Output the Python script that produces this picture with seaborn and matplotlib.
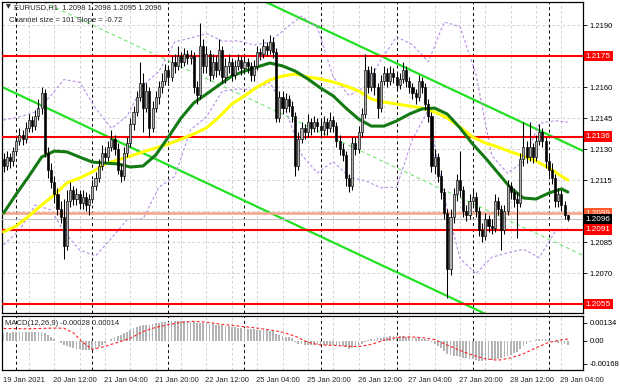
import matplotlib
matplotlib.use("Agg")
import matplotlib.pyplot as plt
import matplotlib.transforms as mtrans
import numpy as np
import pandas as pd
import seaborn as sns

# ---------------- data ----------------
first_open = 1.2125
close = [1.2122, 1.2126, 1.2124, 1.2129, 1.2134, 1.2137, 1.2135, 1.2140, 1.2144, 1.2141,
         1.2146, 1.2150, 1.2157, 1.2128, 1.2120, 1.2114, 1.2108, 1.2101, 1.2097, 1.2083,
         1.2105, 1.2110, 1.2106, 1.2108, 1.2104, 1.2107, 1.2103, 1.2106, 1.2112, 1.2116,
         1.2122, 1.2128, 1.2126, 1.2131, 1.2135, 1.2130, 1.2120, 1.2117, 1.2128, 1.2133,
         1.2142, 1.2148, 1.2155, 1.2162, 1.2150, 1.2158, 1.2140, 1.2150, 1.2155, 1.2160,
         1.2163, 1.2168, 1.2165, 1.2172, 1.2170, 1.2175, 1.2172, 1.2176, 1.2174, 1.2175,
         1.2160, 1.2156, 1.2180, 1.2170, 1.2176, 1.2166, 1.2172, 1.2168, 1.2178, 1.2165,
         1.2170, 1.2172, 1.2166, 1.2170, 1.2173, 1.2169, 1.2172, 1.2170, 1.2166, 1.2170,
         1.2177, 1.2176, 1.2180, 1.2178, 1.2182, 1.2177, 1.2145, 1.2155, 1.2150, 1.2154,
         1.2151, 1.2146, 1.2122, 1.2135, 1.2140, 1.2138, 1.2143, 1.2140, 1.2143, 1.2141,
         1.2139, 1.2143, 1.2140, 1.2144, 1.2141, 1.2134, 1.2130, 1.2127, 1.2116, 1.2112,
         1.2133, 1.2130, 1.2138, 1.2147, 1.2168, 1.2160, 1.2167, 1.2160, 1.2150, 1.2163,
         1.2167, 1.2163, 1.2167, 1.2165, 1.2161, 1.2164, 1.2168, 1.2163, 1.2160, 1.2157,
         1.2155, 1.2163, 1.2160, 1.2152, 1.2146, 1.2122, 1.2126, 1.2117, 1.2109, 1.2099,
         1.2072, 1.2097, 1.2108, 1.2115, 1.2110, 1.2100, 1.2098, 1.2105, 1.2107, 1.2100,
         1.2091, 1.2088, 1.2096, 1.2093, 1.2092, 1.2105, 1.2101, 1.2091, 1.2100, 1.2112,
         1.2109, 1.2106, 1.2104, 1.2125, 1.2131, 1.2126, 1.2131, 1.2126, 1.2134, 1.2138,
         1.2134, 1.2124, 1.2120, 1.2116, 1.2105, 1.2108, 1.2103, 1.2098, 1.2096]
high = [1.2128, 1.2129, 1.2128, 1.2131, 1.2136, 1.2140, 1.2139, 1.2143, 1.2147, 1.2146,
        1.2149, 1.2154, 1.2160, 1.2159, 1.2131, 1.2123, 1.2117, 1.2111, 1.2105, 1.2106,
        1.2110, 1.2114, 1.2112, 1.2111, 1.2110, 1.2110, 1.2109, 1.2108, 1.2115, 1.2119,
        1.2125, 1.2132, 1.2131, 1.2134, 1.2139, 1.2137, 1.2133, 1.2123, 1.2131, 1.2136,
        1.2145, 1.2151, 1.2158, 1.2172, 1.2167, 1.2162, 1.2160, 1.2153, 1.2158, 1.2163,
        1.2167, 1.2171, 1.2170, 1.2175, 1.2176, 1.2180, 1.2177, 1.2179, 1.2178, 1.2178,
        1.2177, 1.2163, 1.2191, 1.2183, 1.2180, 1.2178, 1.2176, 1.2175, 1.2183, 1.2180,
        1.2174, 1.2176, 1.2174, 1.2173, 1.2176, 1.2175, 1.2175, 1.2174, 1.2172, 1.2173,
        1.2180, 1.2179, 1.2183, 1.2182, 1.2185, 1.2184, 1.2179, 1.2158, 1.2158, 1.2157,
        1.2156, 1.2153, 1.2148, 1.2138, 1.2143, 1.2142, 1.2147, 1.2145, 1.2146, 1.2145,
        1.2144, 1.2146, 1.2145, 1.2148, 1.2146, 1.2143, 1.2137, 1.2133, 1.2129, 1.2118,
        1.2136, 1.2136, 1.2141, 1.2150, 1.2176, 1.2170, 1.2170, 1.2169, 1.2162, 1.2166,
        1.2170, 1.2169, 1.2170, 1.2169, 1.2167, 1.2167, 1.2172, 1.2170, 1.2165, 1.2162,
        1.2159, 1.2166, 1.2165, 1.2162, 1.2154, 1.2148, 1.2130, 1.2128, 1.2120, 1.2111,
        1.2101, 1.2101, 1.2111, 1.2118, 1.2129, 1.2112, 1.2103, 1.2108, 1.2110, 1.2109,
        1.2102, 1.2094, 1.2099, 1.2098, 1.2096, 1.2108, 1.2107, 1.2103, 1.2103, 1.2115,
        1.2114, 1.2111, 1.2109, 1.2128, 1.2143, 1.2134, 1.2143, 1.2133, 1.2137, 1.2142,
        1.2140, 1.2136, 1.2127, 1.2123, 1.2118, 1.2111, 1.2110, 1.2105, 1.2098]
low = [1.2119, 1.2120, 1.2121, 1.2122, 1.2127, 1.2132, 1.2132, 1.2133, 1.2138, 1.2138,
       1.2139, 1.2144, 1.2147, 1.2126, 1.2116, 1.2111, 1.2104, 1.2098, 1.2094, 1.2077,
       1.2081, 1.2102, 1.2103, 1.2103, 1.2101, 1.2101, 1.2100, 1.2098, 1.2104, 1.2110,
       1.2114, 1.2120, 1.2123, 1.2124, 1.2129, 1.2127, 1.2118, 1.2114, 1.2115, 1.2126,
       1.2131, 1.2139, 1.2146, 1.2153, 1.2138, 1.2148, 1.2136, 1.2138, 1.2148, 1.2152,
       1.2157, 1.2161, 1.2162, 1.2163, 1.2167, 1.2168, 1.2169, 1.2170, 1.2171, 1.2171,
       1.2157, 1.2152, 1.2154, 1.2167, 1.2167, 1.2163, 1.2164, 1.2165, 1.2166, 1.2162,
       1.2162, 1.2167, 1.2163, 1.2164, 1.2168, 1.2166, 1.2167, 1.2167, 1.2163, 1.2163,
       1.2168, 1.2173, 1.2174, 1.2175, 1.2176, 1.2174, 1.2143, 1.2143, 1.2147, 1.2148,
       1.2148, 1.2143, 1.2117, 1.2120, 1.2133, 1.2135, 1.2136, 1.2137, 1.2138, 1.2138,
       1.2136, 1.2137, 1.2137, 1.2138, 1.2138, 1.2131, 1.2127, 1.2124, 1.2112, 1.2109,
       1.2110, 1.2127, 1.2128, 1.2136, 1.2145, 1.2157, 1.2158, 1.2156, 1.2145, 1.2148,
       1.2161, 1.2160, 1.2161, 1.2162, 1.2158, 1.2159, 1.2162, 1.2160, 1.2157, 1.2154,
       1.2152, 1.2153, 1.2157, 1.2149, 1.2143, 1.2119, 1.2118, 1.2114, 1.2106, 1.2096,
       1.2058, 1.2069, 1.2094, 1.2105, 1.2107, 1.2097, 1.2095, 1.2096, 1.2102, 1.2097,
       1.2088, 1.2085, 1.2086, 1.2090, 1.2089, 1.2090, 1.2098, 1.2081, 1.2089, 1.2098,
       1.2106, 1.2102, 1.2087, 1.2102, 1.2122, 1.2123, 1.2124, 1.2123, 1.2124, 1.2132,
       1.2131, 1.2121, 1.2117, 1.2113, 1.2102, 1.2102, 1.2100, 1.2096, 1.2095]

tick_pos = [0, 16, 32, 48, 64, 80, 96, 112, 128, 144, 160, 176]
tick_labels = ["19 Jan 2021", "20 Jan 12:00", "21 Jan 04:00", "21 Jan 20:00",
               "22 Jan 12:00", "25 Jan 04:00", "25 Jan 20:00", "26 Jan 12:00",
               "27 Jan 04:00", "27 Jan 20:00", "28 Jan 12:00", "29 Jan 04:00"]
day_breaks = [4, 28, 52, 76, 100, 124, 148, 172]

ma_idx = [0, 4, 8, 12, 16, 20, 24, 28, 32, 36, 40, 44, 48, 52, 56, 60, 64, 68, 72, 76,
          80, 84, 88, 92, 96, 100, 104, 108, 112, 116, 120, 124, 128, 132, 136, 140,
          144, 148, 152, 156, 160, 164, 168, 172, 176, 178]
ma_fast = [1.20990, 1.21082, 1.21169, 1.21261, 1.21290, 1.21286, 1.21261, 1.21237,
           1.21232, 1.21228, 1.21213, 1.21218, 1.21271, 1.21358, 1.21450, 1.21523,
           1.21566, 1.21610, 1.21653, 1.21677, 1.21697, 1.21716, 1.21702, 1.21677,
           1.21639, 1.21595, 1.21557, 1.21498, 1.21445, 1.21411, 1.21411, 1.21436,
           1.21469, 1.21494, 1.21498, 1.21469, 1.21402, 1.21324, 1.21257, 1.21184,
           1.21111, 1.21063, 1.21058, 1.21087, 1.21107, 1.21092]
ma_slow = [1.20899, 1.20928, 1.20976, 1.21029, 1.21078, 1.21136, 1.21160, 1.21189,
           1.21228, 1.21247, 1.21266, 1.21286, 1.21305, 1.21324, 1.21348, 1.21373,
           1.21402, 1.21455, 1.21518, 1.21557, 1.21600, 1.21634, 1.21653, 1.21663,
           1.21648, 1.21639, 1.21624, 1.21605, 1.21581, 1.21542, 1.21527, 1.21518,
           1.21508, 1.21498, 1.21479, 1.21450, 1.21407, 1.21358, 1.21329, 1.21310,
           1.21286, 1.21266, 1.21242, 1.21208, 1.21169, 1.21150]

bb_idx = [0, 5, 10, 15, 19, 24, 29, 34, 39, 44, 49, 54, 59, 64, 69, 74, 79, 84, 89, 94,
          99, 104, 109, 114, 119, 124, 129, 134, 139, 144, 149, 154, 159, 164, 169, 174, 178]
bb_upper = [1.21440, 1.21455, 1.21479, 1.21561, 1.21636, 1.21623, 1.21498, 1.21400,
            1.21460, 1.21609, 1.21675, 1.21818, 1.21837, 1.21859, 1.21822, 1.21823,
            1.21803, 1.21818, 1.21884, 1.21943, 1.21888, 1.21648, 1.21559, 1.21600,
            1.21729, 1.21843, 1.21804, 1.21722, 1.21915, 1.21892, 1.21664, 1.21269,
            1.21183, 1.21239, 1.21424, 1.21437, 1.21430]
bb_lower = [1.20836, 1.20908, 1.21029, 1.21005, 1.20900, 1.20811, 1.20783, 1.20868,
            1.20959, 1.20962, 1.21115, 1.21168, 1.21393, 1.21456, 1.21580, 1.21591,
            1.21586, 1.21622, 1.21488, 1.21272, 1.21185, 1.21239, 1.21165, 1.21147,
            1.21113, 1.21115, 1.21347, 1.21489, 1.21069, 1.20771, 1.20697, 1.20776,
            1.20798, 1.20815, 1.20775, 1.20901, 1.20916]

# MACD main values (units of 1e-5)
macd_main = [62, 63, 61, 64, 66, 67, 66, 67, 69, 67, 66, 65, 67, 56, 42, 27, 12, -3,
             -15, -28, -40, -48, -55, -60, -62, -64, -66, -66, -64,
             -56, -45, -32, -18, -2, 14, 30,
             38, 45, 56, 68, 80, 92, 103, 112, 116, 121,
             120, 125, 130, 135, 138, 140, 142, 144, 145, 146, 146, 145, 144, 143, 138,
             132, 136, 133, 131, 127, 124, 121, 118, 114, 111, 108, 105, 102, 99, 96,
             94, 91, 88, 85, 84, 82, 80, 79, 77, 70, 52, 44, 37, 31, 27,
             20, -8, -20, -25, -27, -28, -29, -30, -30, -31, -31, -30, -29, -30, -33, -36, -40,
             -48, -56, -50, -42, -34, -24,
             -6, 4, 12, 18, 20, 25, 29, 32, 34, 35, 34, 33, 33, 31, 28, 25, 21, 19, 17, 13, 7,
             -10, -24, -38, -55, -72, -98, -105, -108, -112, -116, -122, -127, -130, -133, -138, -145,
             -148, -146, -143, -140, -134, -130, -127, -120, -110, -100, -92, -85,
             -62, -38, -24, -10, 2, 10, 16, 18,
             14, 8, 2, -6, -12, -18, -24, -28]
signal_idx = [0, 8, 16, 19, 22, 25, 28, 32, 36, 40, 44, 48, 52, 56, 60, 64, 68, 72, 76, 80,
              84, 88, 92, 96, 100, 104, 108, 112, 116, 120, 124, 128, 132, 136, 140, 144,
              148, 152, 156, 160, 164, 168, 172, 176, 178]
signal_val = [92, 90, 95, 94, 60, -10, -62, -40, -10, 20, 70, 100, 120, 138, 145, 138, 125,
              115, 105, 95, 82, 65, 35, -10, -30, -32, -38, -42, -25, 5, 25, 30, 25, 10,
              -30, -70, -105, -132, -142, -125, -95, -50, -10, 8, 14]

levels = [1.2175, 1.2136, 1.2091, 1.2055]
prev_close_level = 1.2099
bid_level = 1.2096
price_ticks = [1.2055, 1.2070, 1.2085, 1.2100, 1.2115, 1.2130, 1.2145, 1.2160, 1.2175, 1.2190]
price_tick_labels = ["", "1.2070", "1.2085", "", "1.2115", "1.2130", "1.2145", "1.2160", "", "1.2190"]
macd_ticks = [0.00134, 0.0, -0.00168]
macd_tick_labels = ["0.00134", "0.00", "-0.00168"]
channel_anchor_idx = 119
channel_anchor_price = 1.2175
channel_slope_pips = -0.72
channel_size_pips = 101

# ---------------- figure ----------------
sns.set_style("white")
plt.rcParams['font.family'] = ['Liberation Sans', 'DejaVu Sans']
FS = 5.5

fig = plt.figure(figsize=(6.2, 3.88), dpi=100)
W, H = 620, 388
ax = fig.add_axes([2 / W, 1 - 313 / H, 581 / W, 311 / H])
ax2 = fig.add_axes([2 / W, 1 - 370 / H, 581 / W, 54 / H])

n = len(close)
idx = np.arange(n)
opens = np.array([first_open] + close[:-1])
cl = np.array(close)
hi = np.array(high)
lo = np.array(low)

XMIN, XMAX = -0.5, 182.8
ax.set_xlim(XMIN, XMAX)
ax.set_ylim(1.205067, 1.220113)
ax2.set_xlim(XMIN, XMAX)
ax2.set_ylim(-0.00214, 0.00184)

grid_kw = dict(color="#c8c8c8", lw=0.6, dashes=(3, 3), zorder=0)
sep_kw = dict(color="#000000", lw=0.7, dashes=(3, 3), zorder=0.5)
for a in (ax, ax2):
    for g in range(8, 183, 8):
        if g not in day_breaks:
            a.axvline(g, **grid_kw)
    for d in day_breaks:
        a.axvline(d, **sep_kw)
for p in price_ticks:
    ax.axhline(p, **grid_kw)

# channel lines
cx = np.array([XMIN - 5, XMAX + 5])
upper = channel_anchor_price + channel_slope_pips * 1e-4 * (cx - channel_anchor_idx)
lower = upper - channel_size_pips * 1e-4
middle = upper - channel_size_pips * 0.5e-4
sns.lineplot(x=cx, y=upper, ax=ax, color="#22e022", lw=1.6, zorder=2)
sns.lineplot(x=cx, y=lower, ax=ax, color="#22e022", lw=1.6, zorder=2)
ax.plot(cx, middle, color="#7ee87e", lw=0.9, dashes=(3, 2.5), zorder=2)

# envelope bands (purple dashed)
for band in (bb_upper, bb_lower):
    ax.plot(bb_idx, band, color="#b68ce8", lw=0.8, dashes=(2.5, 2), zorder=2.5)

# horizontal levels
for lv in levels:
    ax.axhline(lv, color="#ff0000", lw=1.5, zorder=3)
ax.axhline(prev_close_level, color="#f6a385", lw=1.8, zorder=3)
ax.axhline(bid_level, color="#c0c0c0", lw=0.8, zorder=3)

# moving averages
sns.lineplot(x=ma_idx, y=ma_slow, ax=ax, color="#ffff00", lw=2.2, zorder=4)
sns.lineplot(x=ma_idx, y=ma_fast, ax=ax, color="#137a13", lw=2.2, zorder=4)

# candles
ax.vlines(idx, lo, hi, color="#000000", lw=0.75, zorder=5)
bull = cl >= opens
body_lo = np.minimum(opens, cl)
body_h = np.maximum(np.abs(cl - opens), 0.00003)
ax.bar(idx, body_h, bottom=body_lo, width=0.66,
       color=np.where(bull, "#b0b0b0", "#000000"), edgecolor="#000000", lw=0.45, zorder=6)

# MACD
mm = np.array(macd_main) * 1e-5
ax2.bar(idx, mm, width=0.55, color="#b4b4b4", edgecolor="none", zorder=3)
ax2.plot(signal_idx, np.array(signal_val) * 1e-5, color="#ff2020", lw=0.8,
         dashes=(2.5, 2), zorder=4)

# axes styling
for a in (ax, ax2):
    for s in a.spines.values():
        s.set_color("#000000")
        s.set_linewidth(0.9)
    a.yaxis.tick_right()
    a.tick_params(axis="y", direction="out", length=3, width=0.6, labelsize=FS, pad=2,
                  colors="#000000")
ax.set_xticks([])
ax.set_yticks(price_ticks)
ax.set_yticklabels(price_tick_labels)
ax2.set_yticks(macd_ticks)
ax2.set_yticklabels(macd_tick_labels)
ax2.set_xticks(tick_pos)
ax2.set_xticklabels(tick_labels, ha="left")
ax2.tick_params(axis="x", direction="out", length=3, width=0.6, labelsize=FS, pad=2)
for lab in ax2.get_xticklabels():
    lab.set_transform(lab.get_transform() + mtrans.ScaledTranslation(-1 / 100, 0, fig.dpi_scale_trans))

# price tags on the right axis
tr = mtrans.blended_transform_factory(ax.transAxes, ax.transData)
def tag(y, txt, fc, tc="white"):
    ax.text(1.005, y, txt, transform=tr, ha="left", va="center", fontsize=5.9, color=tc,
            bbox=dict(boxstyle="square,pad=0.2", fc=fc, ec="none"), zorder=10, clip_on=False)
for lv in levels:
    tag(lv, f"{lv:.4f}", "#ff0000")
tag(prev_close_level, f"{prev_close_level:.4f}", "#ff5a28")
tag(bid_level, f"{bid_level:.4f}", "#000000")

# texts
ax.text(0.006, 0.992, "\u25bc", transform=ax.transAxes, ha="left", va="top",
        fontsize=4.5, family="DejaVu Sans", zorder=10)
ax.text(0.020, 0.992, "EURUSD,H1  1.2098 1.2098 1.2095 1.2096", transform=ax.transAxes,
        ha="left", va="top", fontsize=FS, zorder=10)
ax.text(0.012, 0.953, "Channel size = 101 Slope = -0.72", transform=ax.transAxes,
        ha="left", va="top", fontsize=FS, zorder=10)
ax2.text(0.005, 0.93, "MACD(12,26,9) -0.00028 0.00014", transform=ax2.transAxes,
         ha="left", va="top", fontsize=FS, zorder=10)

fig.savefig("out.png", dpi=100)
